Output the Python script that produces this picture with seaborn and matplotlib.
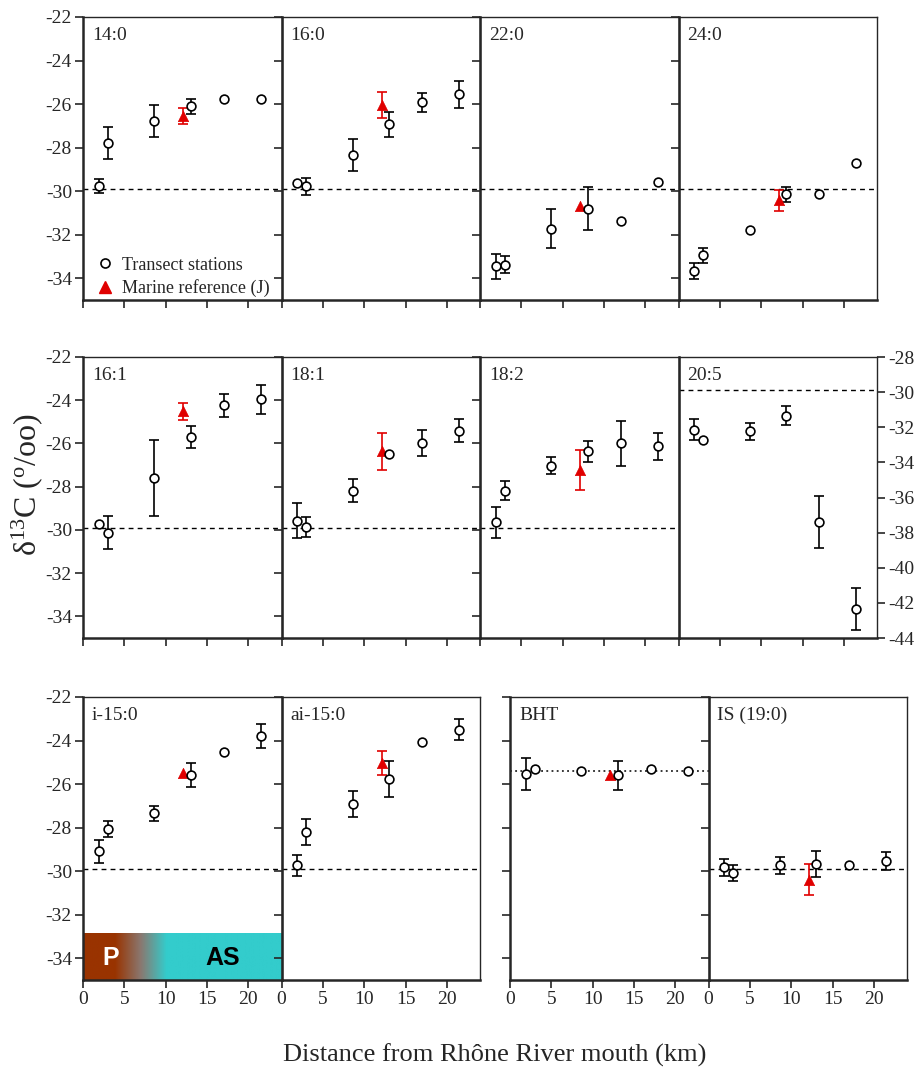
import matplotlib
matplotlib.use('Agg')
import matplotlib.pyplot as plt
from matplotlib.colors import LinearSegmentedColormap
from matplotlib.lines import Line2D
import numpy as np
import seaborn as sns

# distances of the transect stations and of the marine reference (km)
stations_km = [1.9, 3.0, 8.6, 13.0, 17.0, 21.5]
marine_km = 12.1
terrestrial_ref = -29.9

panel_names = ['14:0', '16:0', '22:0', '24:0',
               '16:1', '18:1', '18:2', '20:5',
               'i-15:0', 'ai-15:0', 'BHT', 'IS (19:0)']

# d13C of the transect stations, and their error bars (0 = not visible)
d13c_14_0 = [-29.78, -27.79, -26.78, -26.11, -25.76, -25.76]
err_14_0 = [0.32, 0.72, 0.72, 0.33, 0, 0]
d13c_16_0 = [-29.64, -29.78, -28.35, -26.92, -25.91, -25.55]
err_16_0 = [0, 0.40, 0.73, 0.57, 0.44, 0.62]
d13c_22_0 = [-33.45, -33.37, -31.73, -30.80, -31.37, -29.57]
err_22_0 = [0.57, 0.41, 0.90, 0.97, 0, 0]
d13c_24_0 = [-33.66, -32.95, -31.79, -30.15, -30.15, -28.70]
err_24_0 = [0.38, 0.34, 0, 0.33, 0, 0]
d13c_16_1 = [-29.71, -30.12, -27.61, -25.71, -24.24, -23.96]
err_16_1 = [0, 0.76, 1.75, 0.52, 0.55, 0.66]
d13c_18_1 = [-29.58, -29.88, -28.18, -26.51, -25.98, -25.41]
err_18_1 = [0.81, 0.46, 0.55, 0, 0.62, 0.52]
d13c_18_2 = [-29.64, -28.19, -27.02, -26.37, -26.00, -26.14]
err_18_2 = [0.72, 0.44, 0.38, 0.49, 1.06, 0.63]
d13c_20_5 = [-32.13, -32.75, -32.23, -31.34, -37.40, -42.36]
err_20_5 = [0.58, 0, 0.49, 0.54, 1.46, 1.20]
d13c_i15_0 = [-29.08, -28.07, -27.35, -25.60, -24.52, -23.78]
err_i15_0 = [0.53, 0.37, 0.36, 0.55, 0, 0.54]
d13c_ai15_0 = [-29.74, -28.21, -26.90, -25.75, -24.07, -23.50]
err_ai15_0 = [0.46, 0.60, 0.60, 0.83, 0, 0.47]
d13c_bht = [-25.53, -25.30, -25.38, -25.60, -25.30, -25.38]
err_bht = [0.73, 0, 0, 0.66, 0, 0]
d13c_is = [-29.82, -30.10, -29.74, -29.67, -29.74, -29.53]
err_is = [0.38, 0.36, 0.40, 0.58, 0, 0.40]

# marine reference (J): value and error, None where absent
marine_vals = [-26.55, -26.04, -30.70, -30.42, -24.52, -26.37, -27.22, None,
               -25.50, -25.04, -25.58, -30.39]
marine_errs = [0.35, 0.59, 0, 0.48, 0.39, 0.85, 0.92, 0, 0, 0.54, 0, 0.70]

bht_level = -25.38

station_vals = [d13c_14_0, d13c_16_0, d13c_22_0, d13c_24_0, d13c_16_1, d13c_18_1,
                d13c_18_2, d13c_20_5, d13c_i15_0, d13c_ai15_0, d13c_bht, d13c_is]
station_errs = [err_14_0, err_16_0, err_22_0, err_24_0, err_16_1, err_18_1,
                err_18_2, err_20_5, err_i15_0, err_ai15_0, err_bht, err_is]

RED = '#e00000'
W, H = 916, 1074
FS = 14

sns.set_style('ticks')
plt.rcParams['font.family'] = ['Liberation Serif', 'DejaVu Serif']
plt.rcParams['mathtext.fontset'] = 'custom'
plt.rcParams['mathtext.rm'] = 'Liberation Serif'
plt.rcParams['mathtext.it'] = 'Liberation Serif:italic'

fig = plt.figure(figsize=(W / 100, H / 100), dpi=100)

row_tops = [17, 357, 697]
row_h = [283, 281, 283]
col_lefts = [[83, 281.5, 480, 678.5], [83, 281.5, 480, 678.5], [83, 281.5, 510, 708.5]]
col_w = 198.5


def px_axes(left, top, w, h):
    return fig.add_axes([left / W, 1 - (top + h) / H, w / W, h / H])


for i, name in enumerate(panel_names):
    r, c = divmod(i, 4)
    ax = px_axes(col_lefts[r][c], row_tops[r], col_w, row_h[r])
    ax.patch.set_alpha(0)
    vals = np.array(station_vals[i])
    errs = np.array(station_errs[i])
    x = np.array(stations_km)

    # reference lines
    if name == 'BHT':
        ax.axhline(bht_level, color='black', lw=1.1, ls=(0, (1.2, 2.2)), zorder=1)
    else:
        ax.axhline(terrestrial_ref, color='black', lw=1.0, ls=(0, (3.5, 3)), zorder=1)

    m = errs > 0
    ax.errorbar(x[m], vals[m], yerr=errs[m], fmt='none', ecolor='black',
                elinewidth=1.2, capsize=3.3, capthick=1.2, zorder=2)

    mv = marine_vals[i]
    if mv is not None:
        if marine_errs[i] > 0:
            ax.errorbar([marine_km], [mv], yerr=[marine_errs[i]], fmt='none',
                        ecolor=RED, elinewidth=1.2, capsize=3.3, capthick=1.2, zorder=2)
        sns.scatterplot(x=[marine_km], y=[mv], ax=ax, marker='^', s=55,
                        color=RED, edgecolor=RED, linewidth=0.5, zorder=3, legend=False)

    sns.scatterplot(x=x, y=vals, ax=ax, marker='o', s=40, color='white',
                    edgecolor='black', linewidth=1.2, zorder=4, legend=False)

    if name == 'i-15:0':
        cmap = LinearSegmentedColormap.from_list(
            'pas', [(0, '#993300'), (0.16, '#993300'), (0.29, '#8a7870'),
                    (0.42, '#33cccc'), (1, '#33cccc')])
        ax.imshow(np.linspace(0, 1, 256)[None, :], cmap=cmap, aspect='auto',
                  extent=[0, 24, -35, -32.88], zorder=0.5)
        ax.text(3.3, -34.0, 'P', color='white', fontweight='bold', fontsize=18,
                family='Liberation Sans', ha='center', va='center')
        ax.text(16.9, -34.0, 'AS', color='black', fontweight='bold', fontsize=18,
                family='Liberation Sans', ha='center', va='center')

    ax.set_xlim(0, 24)
    ax.set_xticks([0, 5, 10, 15, 20])
    if name == '20:5':
        ax.set_ylim(-44, -28)
        ax.set_yticks(np.arange(-44, -27, 2))
        ax.yaxis.tick_right()
    else:
        ax.set_ylim(-35, -22)
        ax.set_yticks(np.arange(-34, -21, 2))

    ax.tick_params(direction='out', length=6, width=1.2, labelsize=FS, pad=2)
    if r < 2:
        ax.tick_params(axis='x', labelbottom=False)
    if c > 0 and name != '20:5':
        ax.tick_params(axis='y', labelleft=False)
    ax.yaxis.set_major_formatter(matplotlib.ticker.FuncFormatter(lambda v, p: '%d' % v))

    for side in ['left', 'bottom']:
        ax.spines[side].set_linewidth(1.8)
    for side in ['top', 'right']:
        ax.spines[side].set_linewidth(1.0)
    for s in ax.spines.values():
        s.set_zorder(5)

    ax.text(0.045, 0.965, name, transform=ax.transAxes, ha='left', va='top', fontsize=FS)
    ax.set_xlabel('')
    ax.set_ylabel('')

    if i == 0:
        handles = [Line2D([], [], marker='o', ls='none', mfc='white', mec='black', ms=6.5, mew=1.2),
                   Line2D([], [], marker='^', ls='none', mfc=RED, mec=RED, ms=8)]
        ax.legend(handles, ['Transect stations', 'Marine reference (J)'], loc='lower left',
                  bbox_to_anchor=(0.065, 0.01), frameon=False, fontsize=13,
                  handlelength=1.0, handletextpad=0.45, labelspacing=0.3,
                  borderaxespad=0, borderpad=0)

fig.text(27 / W, 1 - 485 / H, r'δ$^{\mathrm{13}}$C ($^{\mathrm{o}}$/oo)', rotation=90,
         ha='center', va='center', fontsize=23)
fig.text(495 / W, 1 - 1055 / H, 'Distance from Rhône River mouth (km)',
         ha='center', va='center', fontsize=19)

fig.savefig('out.png', dpi=100)
